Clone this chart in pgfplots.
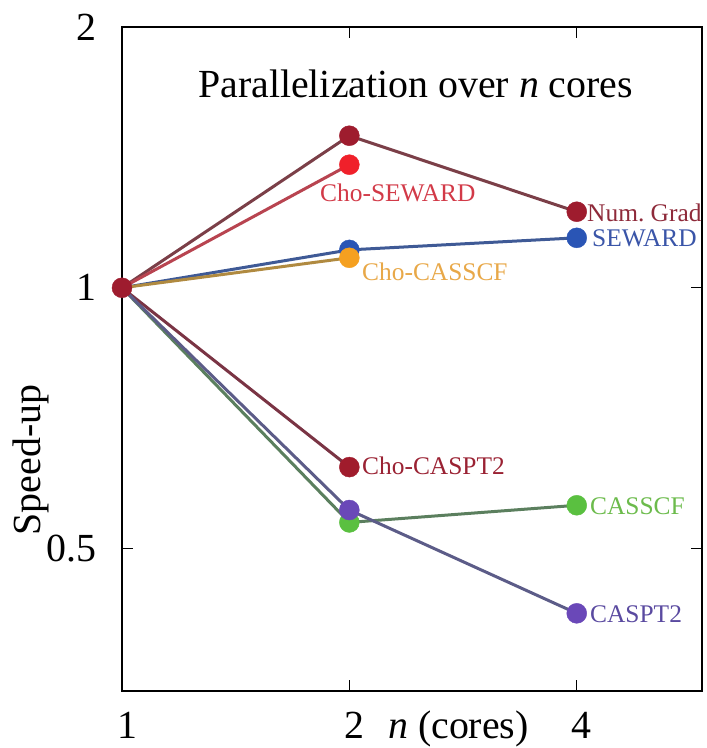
\documentclass[border=0pt]{standalone}
\usepackage{fontspec}
\setmainfont{Liberation Serif}
\usepackage{pgfplots}
\pgfplotsset{compat=1.18}

\definecolor{ngmark}{HTML}{9E1C2E}
\definecolor{ngline}{HTML}{7B3F48}
\definecolor{ngtext}{HTML}{8E2A3A}
\definecolor{csmark}{HTML}{F0202A}
\definecolor{csline}{HTML}{B84450}
\definecolor{cstext}{HTML}{D23A48}
\definecolor{swmark}{HTML}{2A55B5}
\definecolor{swline}{HTML}{3F5A96}
\definecolor{swtext}{HTML}{3A55A8}
\definecolor{ccmark}{HTML}{F5A020}
\definecolor{ccline}{HTML}{B08A40}
\definecolor{cctext}{HTML}{E8A848}
\definecolor{cpmark}{HTML}{A01C2C}
\definecolor{cpline}{HTML}{7A3444}
\definecolor{cptext}{HTML}{9A2233}
\definecolor{scmark}{HTML}{5AC040}
\definecolor{scline}{HTML}{5B7F5E}
\definecolor{sctext}{HTML}{6CBB4C}
\definecolor{ptmark}{HTML}{6A48B8}
\definecolor{ptline}{HTML}{5C5C88}
\definecolor{pttext}{HTML}{5A4AA0}

\newcommand{\bigfont}{\fontsize{40}{42}\selectfont}
\newcommand{\labfont}{\fontsize{25.5}{27}\selectfont}

\begin{document}
\begin{tikzpicture}
\path[use as bounding box] (0bp,0bp) rectangle (707bp,748bp);
\begin{axis}[
  at={(122bp,57bp)}, anchor=south west,
  scale only axis, width=580bp, height=664bp,
  xmode=log, log basis x=2, ymode=log, log basis y=2,
  xmin=1, xmax=5.86, ymin=0.3425, ymax=2,
  xtick={1,2,4}, xticklabels={1,2,4},
  ytick={0.5,1,2}, yticklabels={0.5,1,2},
  minor xtick={}, minor ytick={},
  tick align=inside, major tick length=11bp,
  axis line style={line width=1.2bp},
  every tick/.style={black, line width=1bp},
  tick label style={font=\bigfont},
  xticklabel style={anchor=north, inner sep=0pt, yshift=-21bp, xshift=5bp},
  yticklabel style={anchor=east, inner sep=0pt, xshift=-25bp},
  clip=false,
  /pgf/number format/assume math mode=true,
]
% lines
\addplot[ngline, line width=3bp, mark=none] coordinates {(1,1) (2,1.498) (4,1.224)};
\addplot[csline, line width=3bp, mark=none] coordinates {(1,1) (2,1.387)};
\addplot[swline, line width=3bp, mark=none] coordinates {(1,1) (2,1.106) (4,1.142)};
\addplot[ccline, line width=3bp, mark=none] coordinates {(1,1) (2,1.083)};
\addplot[cpline, line width=3bp, mark=none] coordinates {(1,1) (2,0.621)};
\addplot[scline, line width=3bp, mark=none] coordinates {(1,1) (2,0.536) (4,0.561)};
\addplot[ptline, line width=3bp, mark=none] coordinates {(1,1) (2,0.554) (4,0.421)};
% markers
\addplot[only marks, color=scmark, mark=*, mark size=10bp] coordinates {(2,0.536) (4,0.561)};
\addplot[only marks, color=ptmark, mark=*, mark size=10bp] coordinates {(2,0.554) (4,0.421)};
\addplot[only marks, color=cpmark, mark=*, mark size=10bp] coordinates {(2,0.621)};
\addplot[only marks, color=swmark, mark=*, mark size=10bp] coordinates {(2,1.106) (4,1.142)};
\addplot[only marks, color=ccmark, mark=*, mark size=10bp] coordinates {(2,1.083)};
\addplot[only marks, color=csmark, mark=*, mark size=10bp] coordinates {(2,1.387)};
\addplot[only marks, color=ngmark, mark=*, mark size=10bp] coordinates {(1,1) (2,1.498) (4,1.224)};
\end{axis}
% texts, placed in picture pixels (y measured from bottom)
\node[anchor=base west, inner sep=0pt, font=\bigfont] at (198bp,650bp) {Parallelization over \textit{n} cores};
\node[anchor=base, inner sep=0pt, rotate=90, font=\bigfont] at (40bp,288bp) {Speed-up};
\node[anchor=base west, inner sep=0pt, font=\bigfont] at (388bp,10bp) {\textit{n} (cores)};
\node[anchor=base west, inner sep=0pt, font=\labfont, text=cstext] at (320bp,546bp) {Cho-SEWARD};
\node[anchor=base west, inner sep=0pt, font=\labfont, text=ngtext] at (587bp,526bp) {Num.\ Grad};
\node[anchor=base west, inner sep=0pt, font=\labfont, text=swtext] at (592bp,501bp) {SEWARD};
\node[anchor=base west, inner sep=0pt, font=\labfont, text=cctext] at (362bp,467bp) {Cho-CASSCF};
\node[anchor=base west, inner sep=0pt, font=\labfont, text=cptext] at (362bp,273bp) {Cho-CASPT2};
\node[anchor=base west, inner sep=0pt, font=\labfont, text=sctext] at (590bp,233bp) {CASSCF};
\node[anchor=base west, inner sep=0pt, font=\labfont, text=pttext] at (590bp,125bp) {CASPT2};
\end{tikzpicture}
\end{document}
